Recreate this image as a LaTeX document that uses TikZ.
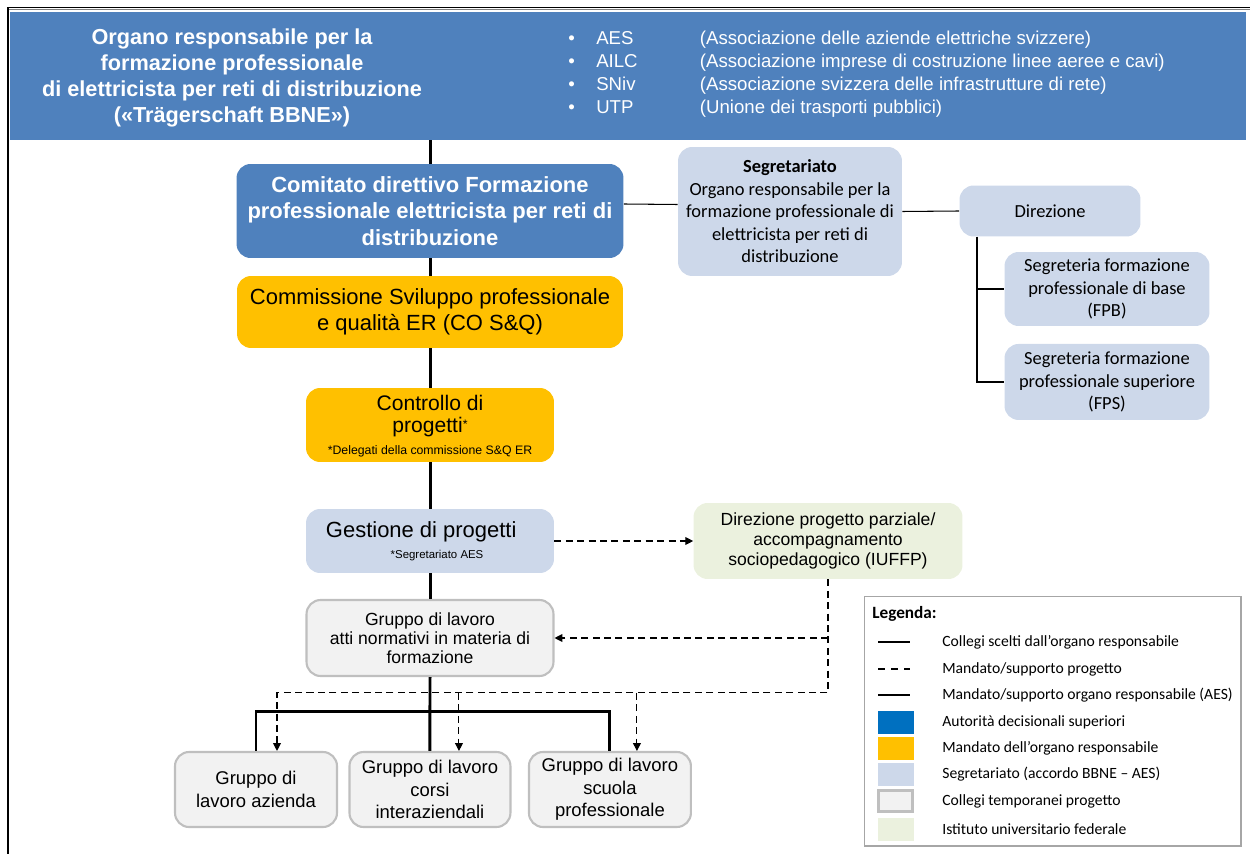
\documentclass[tikz,border=0pt]{standalone}
\usepackage{fontspec}
\setmainfont{Liberation Sans}
\newfontfamily\calibri{Carlito}
\usetikzlibrary{arrows.meta, positioning, calc}
\definecolor{bbneblue}{HTML}{4F81BD}
\definecolor{gold}{HTML}{FFC000}
\definecolor{segblue}{HTML}{CDD8EA}
\definecolor{tempgrey}{HTML}{F2F2F2}
\definecolor{greyline}{HTML}{BFBFBF}
\definecolor{iufgreen}{HTML}{EBF1DE}
\definecolor{legblue}{HTML}{0070C0}

\begin{document}
\begin{tikzpicture}[x=0.02cm,y=-0.02cm,on grid]
    \tikzstyle{box}=[shape=rectangle,rounded corners=8pt,align=center,inner sep=2pt]
    \tikzstyle{upper}=[box,fill=bbneblue,text=white,font=\bfseries\fontsize{12.5}{15}\selectfont]
    \tikzstyle{mandate}=[box,fill=gold,font=\fontsize{12.5}{14.5}\selectfont]
    \tikzstyle{secr}=[box,fill=segblue,font=\calibri\fontsize{10.5}{12.8}\selectfont]
    \tikzstyle{temp}=[box,fill=tempgrey,draw=greyline,line width=1.2pt,font=\fontsize{10.5}{12.8}\selectfont]
    \tikzstyle{iuf}=[box,fill=iufgreen,font=\fontsize{10}{11.3}\selectfont]
    \tikzstyle{collegio}=[line width=1.7pt]
    \tikzstyle{progetto}=[line width=0.6pt,dash pattern=on 4pt off 2.5pt,-{Triangle[length=4.5pt,width=4.5pt]}]
    \tikzstyle{organo}=[line width=0.6pt]
    \tikzstyle{legtext}=[anchor=west,inner sep=0,font=\calibri\fontsize{8.9}{10}\selectfont]

    \useasboundingbox (0,0) rectangle (1250,854);
    \draw[line width=0.8pt] (7,7.5) -- (1250,7.5);
    \draw[line width=0.4pt,gray] (7,9.8) -- (1250,9.8);
    \draw[line width=0.8pt] (8,7.5) -- (8,854);

    \node[shape=rectangle,fill=bbneblue,minimum width=24.72cm,minimum height=2.56cm] (organo) at (628,76) {};
    \node[align=center,text=white,font=\bfseries\fontsize{12.35}{14.8}\selectfont] (titolo) at (232,78)
        {Organo responsabile per la\\formazione professionale\\di elettricista per reti di distribuzione\\(«Trägerschaft BBNE»)};
    \node[anchor=west,inner sep=0,align=left,text=white,font=\fontsize{10.6}{13}\selectfont] (soci) at (568,74)
        {\makebox[15.9pt][l]{\textbullet}\makebox[59pt][l]{AES}(Associazione delle aziende elettriche svizzere)\\
         \makebox[15.9pt][l]{\textbullet}\makebox[59pt][l]{AILC}(Associazione imprese di costruzione linee aeree e cavi)\\
         \makebox[15.9pt][l]{\textbullet}\makebox[59pt][l]{SNiv}(Associazione svizzera delle infrastrutture di rete)\\
         \makebox[15.9pt][l]{\textbullet}\makebox[59pt][l]{UTP}(Unione dei trasporti pubblici)};

    \node[upper,minimum width=7.74cm,minimum height=1.88cm] (comitato) at (430,211)
        {Comitato direttivo Formazione\\professionale elettricista per reti di\\distribuzione};
    \node[mandate,minimum width=7.72cm,minimum height=1.44cm] (commissione) at (430,312)
        {Commissione Sviluppo professionale\\e qualità ER (CO S\&Q)};
    \node[mandate,minimum width=4.96cm,minimum height=1.48cm,font=\fontsize{12}{12.6}\selectfont] (controllo) at (430,425)
        {\rule{0pt}{10pt}Controllo di\\progetti\raisebox{0.4ex}{\fontsize{7}{7}\selectfont*}\\[0pt]\fontsize{7}{7.5}\selectfont *Delegati della commissione S\&Q ER};
    \node[secr,minimum width=4.96cm,minimum height=1.28cm,font=\fontsize{12.5}{14}\selectfont] (gestione) at (430,541)
        {\hspace*{-10pt}Gestione di progetti\\[-2pt]\fontsize{6.5}{7}\selectfont\hspace*{8pt}*Segretariato AES};
    \node[temp,minimum width=4.94cm,minimum height=1.52cm,font=\fontsize{10}{10.8}\selectfont] (atti) at (430,638)
        {Gruppo di lavoro\\atti normativi in materia di\\formazione};
    \node[iuf,minimum width=5.38cm,minimum height=1.52cm] (iuffp) at (828,541)
        {Direzione progetto parziale/\\accompagnamento\\sociopedagogico (IUFFP)};

    \node[secr,minimum width=4.48cm,minimum height=2.58cm] (segr) at (790,211.5)
        {\textbf{Segretariato}\\Organo responsabile per la\\formazione professionale di\\elettricista per reti di\\distribuzione};
    \node[secr,minimum width=3.62cm,minimum height=1.02cm] (direz) at (1050,211) {Direzione};
    \node[secr,minimum width=4.1cm,minimum height=1.48cm] (fpb) at (1107,289)
        {Segreteria formazione\\professionale di base\\(FPB)};
    \node[secr,minimum width=4.1cm,minimum height=1.52cm,below=1.86cm of fpb] (fps)
        {Segreteria formazione\\professionale superiore\\(FPS)};

    \node[temp,minimum width=3.24cm,minimum height=1.5cm] (azienda) at (256,789.5) {Gruppo di\\lavoro azienda};
    \node[temp,minimum width=3.22cm,minimum height=1.5cm,right=3.48cm of azienda] (corsi)
        {Gruppo di lavoro\\corsi\\interaziendali};
    \node[temp,minimum width=3.24cm,minimum height=1.5cm,right=3.6cm of corsi] (scuola)
        {Gruppo di lavoro\\scuola\\professionale};

    \path[draw, collegio]
    (organo.south -| comitato) edge (comitato.north)
    (comitato.south) edge (commissione.north)
    (commissione.south) edge (controllo.north)
    (controllo.south) edge (gestione.north)
    (gestione.south) edge (atti.north)
    (atti.south) edge (corsi.north)
    (azienda.north) -- ++(0,-39) -| (scuola.north);

    \path[draw, organo]
    ($(comitato.east)+(0,-7)$) edge ($(segr.west)+(0,-7)$)
    (segr.east) edge (direz.west)
    ($(direz.south)+(-73,0)$) edge[to path={|- (\tikztotarget)}] (fpb.west)
    ($(direz.south)+(-73,0)$) edge[to path={|- (\tikztotarget)}] (fps.west);

    \draw[progetto] (gestione.east) -- (iuffp.west);
    \draw[progetto] (iuffp.south) |- ($(azienda.north)+(21,-58)$) -- ($(azienda.north)+(21,0)$);
    \draw[progetto] (iuffp.south |- atti.east) -- (atti.east);
    \draw[progetto] ($(corsi.north)+(29,-58)$) -- ($(corsi.north)+(29,0)$);
    \draw[progetto] ($(scuola.north)+(27,-58)$) -- ($(scuola.north)+(27,0)$);

    \node[shape=rectangle,draw=black!35,line width=0.6pt,minimum width=7.54cm,minimum height=5cm] (legenda) at (1052.5,721) {};
    \node[anchor=west,inner sep=0,font=\calibri\bfseries\fontsize{9.8}{11}\selectfont] (legtitolo) at (872,614) {Legenda:};
    \draw[collegio,line width=1.3pt] (878,642) -- (910,642);
    \draw[organo,dash pattern=on 4pt off 3.5pt] (878,669) -- (910,669);
    \draw[organo] (878,695) -- (910,695);
    \foreach \yy/\col in {722/legblue,748/gold,774/segblue,829/iufgreen}
        \node[fill=\col,minimum width=0.72cm,minimum height=0.46cm,inner sep=0] at (895.5,\yy) {};
    \node[fill=tempgrey,draw=greyline,line width=1.2pt,minimum width=0.68cm,minimum height=0.42cm,inner sep=0] at (895.5,801) {};
    \foreach \yy/\txt in {642/{Collegi scelti dall’organo responsabile},669/{Mandato/supporto progetto},
        695/{Mandato/supporto organo responsabile (AES)},722/{Autorità decisionali superiori},
        748/{Mandato dell’organo responsabile},774/{Segretariato (accordo BBNE – AES)},
        801/{Collegi temporanei progetto},829/{Istituto universitario federale}}
        \node[legtext] at (942,\yy) {\txt};
\end{tikzpicture}
\end{document}
